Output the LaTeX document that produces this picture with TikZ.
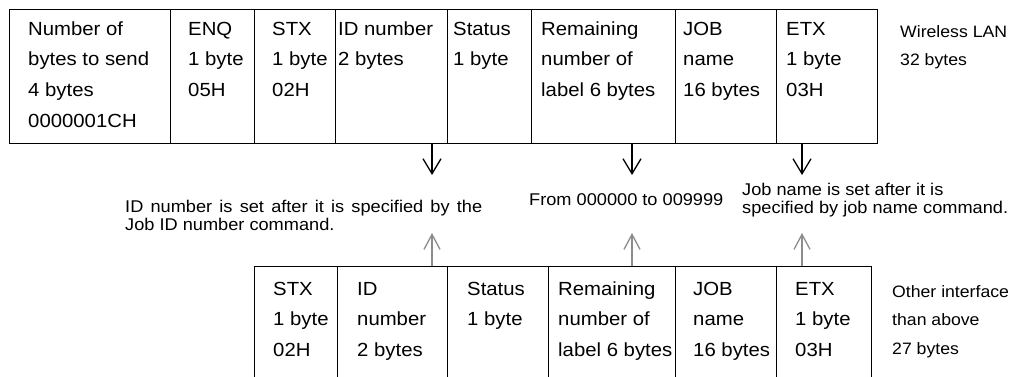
\documentclass[tikz,border=0pt]{standalone}
\usepackage{fontspec}
\setmainfont{Liberation Sans}[FakeStretch=1.07]
\usetikzlibrary{arrows.meta,calc}
\newcommand{\tstrut}{\rule{0pt}{18pt}}
\begin{document}
\begin{tikzpicture}[x=1pt,y=-1pt,
  cellbox/.style={draw=black,line width=1.3pt,anchor=north west,inner sep=0pt},
  firstbase/.style={anchor=north west,inner sep=0pt,yshift=18pt},
  celltext/.style={firstbase,align=left,font=\fontsize{19}{30.7}\selectfont},
  sidetext/.style={firstbase,align=left,font=\fontsize{16.5}{28.5}\selectfont},
  notetext/.style={firstbase,font=\fontsize{17}{18}\selectfont},
  downarrow/.style={draw=black,line width=1.3pt,-{Straight Barb[length=15pt,width=18pt]}},
  uparrow/.style={draw=black!45,line width=1.3pt,-{Straight Barb[length=15pt,width=16pt]}},
]
\useasboundingbox (0,0) rectangle (1019,376);
\clip (0,0) rectangle (1019,376);

% top table (Wireless LAN)
\node[cellbox,minimum width=161,minimum height=134] (t1) at (9,9) {};
\node[cellbox,minimum width=84,minimum height=134] (t2) at (170,9) {};
\node[cellbox,minimum width=81,minimum height=134] (t3) at (254,9) {};
\node[cellbox,minimum width=112,minimum height=134] (t4) at (335,9) {};
\node[cellbox,minimum width=84,minimum height=134] (t5) at (447,9) {};
\node[cellbox,minimum width=144,minimum height=134] (t6) at (531,9) {};
\node[cellbox,minimum width=101,minimum height=134] (t7) at (675,9) {};
\node[cellbox,minimum width=101,minimum height=134] (t8) at (776,9) {};

\node[celltext] (tt1) at (28,35) {\tstrut Number of\\bytes to send\\4 bytes\\0000001CH};
\node[celltext] (tt2) at (188,35) {\tstrut ENQ\\1 byte\\05H};
\node[celltext] (tt3) at (272,35) {\tstrut STX\\1 byte\\02H};
\node[celltext] (tt4) at (338,35) {\tstrut ID number\\2 bytes};
\node[celltext] (tt5) at (453,35) {\tstrut Status\\1 byte};
\node[celltext] (tt6) at (541,35) {\tstrut Remaining\\number of\\label 6 bytes};
\node[celltext] (tt7) at (683,35) {\tstrut JOB\\name\\16 bytes};
\node[celltext] (tt8) at (786,35) {\tstrut ETX\\1 byte\\03H};
\node[sidetext] (wl) at (900,37) {\tstrut Wireless LAN\\32 bytes};

% bottom table (other interface)
\node[cellbox,minimum width=83,minimum height=140] (b1) at (254,266) {};
\node[cellbox,minimum width=110,minimum height=140] (b2) at (337,266) {};
\node[cellbox,minimum width=101,minimum height=140] (b3) at (447,266) {};
\node[cellbox,minimum width=127,minimum height=140] (b4) at (548,266) {};
\node[cellbox,minimum width=101,minimum height=140] (b5) at (675,266) {};
\node[cellbox,minimum width=95,minimum height=140] (b6) at (776,266) {};

\node[celltext] (bt1) at (273,295) {\tstrut STX\\1 byte\\02H};
\node[celltext] (bt2) at (357,295) {\tstrut ID\\number\\2 bytes};
\node[celltext] (bt3) at (467,295) {\tstrut Status\\1 byte};
\node[celltext] (bt4) at (558,295) {\tstrut Remaining\\number of\\label 6 bytes};
\node[celltext] (bt5) at (693,295) {\tstrut JOB\\name\\16 bytes};
\node[celltext] (bt6) at (795,295) {\tstrut ETX\\1 byte\\03H};
\node[sidetext] (oi) at (892,297) {\tstrut Other interface\\than above\\27 bytes};

% notes
\node[notetext,text width=357pt,align=justify] (n1) at (125,212) {\tstrut ID number is set after it is specified by the\linebreak Job ID number command.};
\node[notetext] (n2) at (529,205) {\tstrut From 000000 to 009999};
\node[notetext,align=left] (n3) at (742,195) {\tstrut Job name is set after it is\\specified by job name command.};

% arrows
\coordinate (d1s) at (432,143); \coordinate (d1e) at (432,175);
\coordinate (d2s) at (632,143); \coordinate (d2e) at (632,175);
\coordinate (d3s) at (802,143); \coordinate (d3e) at (802,175);
\coordinate (u1s) at (432,266); \coordinate (u1e) at (432,233);
\coordinate (u2s) at (632,266); \coordinate (u2e) at (632,233);
\coordinate (u3s) at (802,266); \coordinate (u3e) at (802,233);
\draw[downarrow] (d1s) -- (d1e);
\draw[downarrow] (d2s) -- (d2e);
\draw[downarrow] (d3s) -- (d3e);
\draw[uparrow] (u1s) -- (u1e);
\draw[uparrow] (u2s) -- (u2e);
\draw[uparrow] (u3s) -- (u3e);
\end{tikzpicture}
\end{document}
